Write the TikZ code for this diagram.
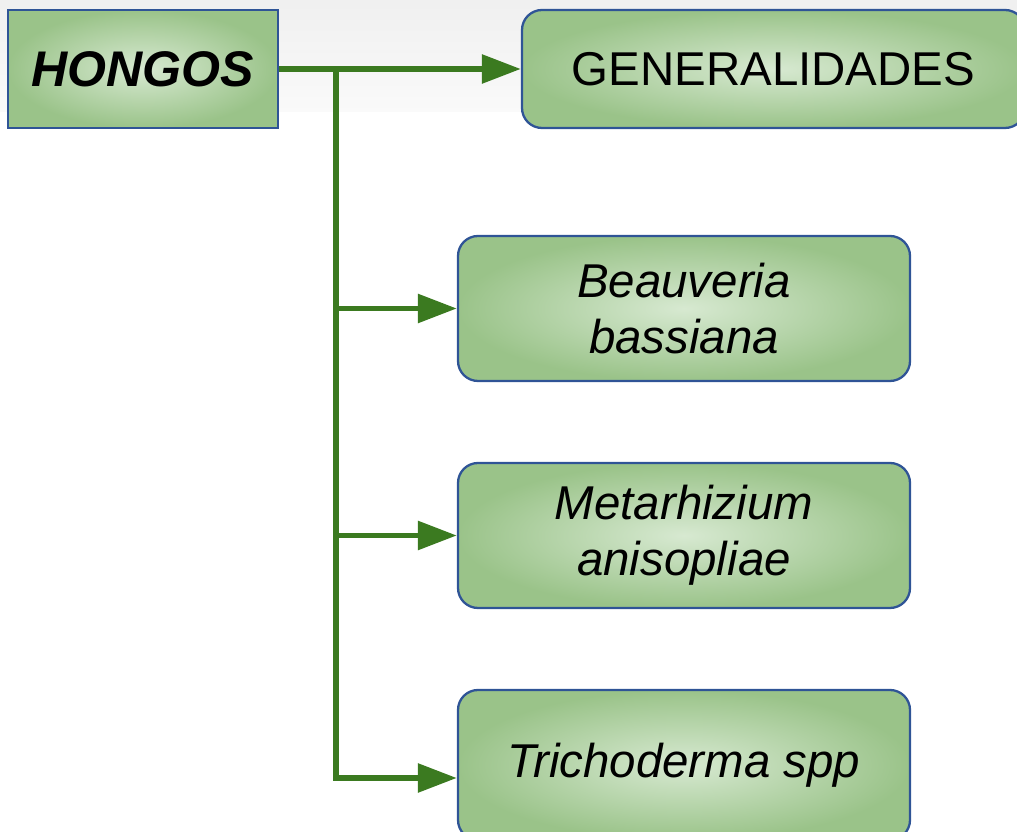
\documentclass[tikz,border=0pt]{standalone}
\usepackage{fontspec}
\setmainfont{Liberation Sans}
\usetikzlibrary{arrows.meta,positioning}
\definecolor{boxin}{HTML}{D7E9D1}
\definecolor{boxout}{HTML}{9AC389}
\definecolor{boxline}{HTML}{2F5496}
\definecolor{linkgreen}{HTML}{3B7A20}
\tikzset{
  box/.style={rectangle, draw=boxline, line width=1.3pt, inner color=boxin, outer color=boxout, align=center, font=\fontsize{27}{32}\selectfont\itshape, inner sep=2pt},
  rbox/.style={box, rounded corners=4mm},
  link/.style={draw=linkgreen, line width=3.3pt},
  arr/.style={link, -{Triangle[length=7.8mm, width=5.6mm]}}
}
\begin{document}
\begin{tikzpicture}
\useasboundingbox (0,0) rectangle (20.34,-16.64);
\shade[top color=black!6, bottom color=black!2] (0,0) rectangle (20.34,-2.24);
\node[box, minimum width=5.4cm, minimum height=2.36cm, font=\fontsize{28.5}{32}\selectfont\bfseries\itshape] (hongos) at (2.86,-1.38) {HONGOS};
\node[rbox, minimum width=10.06cm, minimum height=2.36cm, font=\fontsize{27}{32}\selectfont] (gen) at (15.47,-1.38) {GENERALIDADES};
\node[rbox, minimum width=9.04cm, minimum height=2.9cm] (beau) at (13.68,-6.17) {Beauveria\\bassiana};
\node[rbox, minimum width=9.04cm, minimum height=2.9cm] (meta) at (13.68,-10.71) {Metarhizium\\anisopliae};
\node[rbox, minimum width=9.04cm, minimum height=3cm] (tricho) at (13.68,-15.3) {Trichoderma spp};

% trunk and branches
\coordinate (tr) at (6.72,0);
\coordinate (tricho-in) at ([yshift=-2.6mm]tricho.west);
\draw[arr] (hongos.east) -- (gen.west);
\draw[arr] (tr |- hongos.east) -- (tr |- tricho-in) -- (tricho-in);
\draw[arr] (tr |- beau.west) -- (beau.west);
\draw[arr] (tr |- meta.west) -- (meta.west);
\end{tikzpicture}
\end{document}
